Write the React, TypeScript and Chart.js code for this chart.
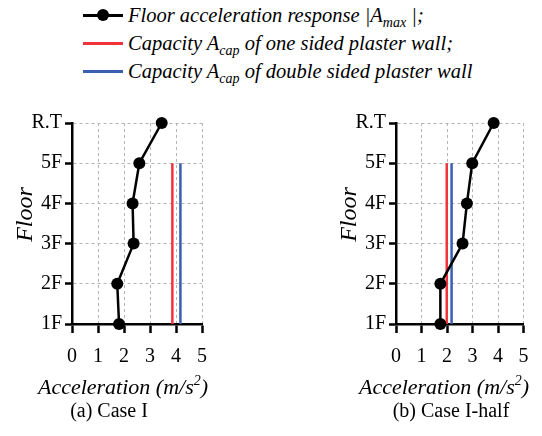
import React, { useEffect, useRef } from "react";
import { Chart, registerables } from "chart.js";

Chart.register(...registerables);

// ---- data ----
const floorLabels = ["1F", "2F", "3F", "4F", "5F", "R.T"];
const floorLevels = [1, 2, 3, 4, 5, 6];
const accelTicks = [0, 1, 2, 3, 4, 5];
const capacityFloors = [1, 5];

const caseIResponse = [1.81, 1.74, 2.37, 2.33, 2.59, 3.45];
const caseIOneSided = 3.86;
const caseIDoubleSided = 4.17;

const caseIHalfResponse = [1.74, 1.74, 2.61, 2.78, 2.99, 3.83];
const caseIHalfOneSided = 1.99;
const caseIHalfDoubleSided = 2.18;

// ---- style ----
const SERIF = '"Liberation Serif", "Times New Roman", serif';
const RED = "#f2333d";
const BLUE = "#3a5eb0";
const GRID = "#b4b4b4";

type PanelProps = {
  response: number[];
  oneSided: number;
  doubleSided: number;
  left: number;
  width: number;
  padRight: number;
};

function Panel({ response, oneSided, doubleSided, left, width, padRight }: PanelProps) {
  const ref = useRef<HTMLCanvasElement | null>(null);
  const H = 310;
  useEffect(() => {
    if (!ref.current) return;
    const chart = new Chart(ref.current, {
      type: "scatter",
      data: {
        datasets: [
          {
            label: "Floor acceleration response",
            data: floorLevels.map((f, i) => ({ x: response[i], y: f })),
            showLine: true,
            borderColor: "#000",
            backgroundColor: "#000",
            borderWidth: 2.5,
            pointRadius: 6,
            pointHoverRadius: 6,
            pointBorderWidth: 0,
            clip: false as any,
          },
          {
            label: "Capacity one sided",
            data: capacityFloors.map((f) => ({ x: oneSided, y: f })),
            showLine: true,
            borderColor: RED,
            backgroundColor: RED,
            borderWidth: 2.5,
            pointRadius: 0,
            clip: false as any,
          },
          {
            label: "Capacity double sided",
            data: capacityFloors.map((f) => ({ x: doubleSided, y: f })),
            showLine: true,
            borderColor: BLUE,
            backgroundColor: BLUE,
            borderWidth: 2.5,
            pointRadius: 0,
            clip: false as any,
          },
        ],
      },
      options: {
        responsive: false,
        animation: false,
        events: [],
        layout: { padding: { left: 0, top: 28, right: padRight, bottom: 0 } },
        plugins: { legend: { display: false }, tooltip: { enabled: false } },
        scales: {
          x: {
            type: "linear",
            min: 0,
            max: 5,
            afterBuildTicks: (s: any) => {
              s.ticks = accelTicks.map((v) => ({ value: v }));
            },
            afterFit: (s: any) => {
              s.height = H - 229;
            },
            ticks: {
              font: { family: SERIF, size: 20, weight: "normal" },
              color: "#000",
              padding: 12,
              maxRotation: 0,
              autoSkip: false,
            },
            grid: { color: GRID, lineWidth: 1, tickLength: 9, tickColor: "#000", tickWidth: 2.5 },
            border: { color: "#000", width: 2.5, dash: [3, 3] },
            title: { display: false },
          },
          y: {
            type: "linear",
            min: 1,
            max: 6,
            afterBuildTicks: (s: any) => {
              s.ticks = floorLevels.map((v) => ({ value: v }));
            },
            afterFit: (s: any) => {
              s.width = 72;
            },
            ticks: {
              font: { family: SERIF, size: 20, weight: "normal" },
              color: "#000",
              padding: 3,
              autoSkip: false,
              callback: (v: any) => floorLabels[floorLevels.indexOf(Number(v))] ?? "",
            },
            grid: { color: GRID, lineWidth: 1, tickLength: 7, tickColor: "#000", tickWidth: 2.5 },
            border: { color: "#000", width: 2.5, dash: [3, 3] },
            title: {
              display: true,
              text: "   Floor",
              font: { family: SERIF, size: 24, style: "italic", weight: "normal" },
              color: "#000",
              padding: { top: 11, bottom: 0 },
            },
          },
        },
      },
    });
    return () => chart.destroy();
  }, []);
  return (
    <canvas
      ref={ref}
      width={width}
      height={H}
      style={{ position: "absolute", left, top: 95, width, height: H }}
    />
  );
}

function LegendRow({ top, kind, children }: { top: number; kind: "black" | "red" | "blue"; children: any }) {
  const color = kind === "black" ? "#000" : kind === "red" ? RED : BLUE;
  return (
    <div
      style={{
        position: "absolute",
        left: 83,
        top,
        height: 28,
        display: "flex",
        alignItems: "center",
        whiteSpace: "nowrap",
      }}
    >
      <div style={{ position: "relative", width: 40, height: 28, flex: "none" }}>
        <div style={{ position: "absolute", left: 0, top: 13, width: 40, height: 2.5, background: color }} />
        {kind === "black" && (
          <div
            style={{
              position: "absolute",
              left: 14,
              top: 8,
              width: 12,
              height: 12,
              borderRadius: 6,
              background: "#000",
            }}
          />
        )}
      </div>
      <span
        style={{
          marginLeft: 5,
          fontFamily: SERIF,
          fontStyle: "italic",
          fontSize: 20.5,
          lineHeight: "28px",
          color: "#000",
        }}
      >
        {children}
      </span>
    </div>
  );
}

const subStyle: React.CSSProperties = { fontSize: 14, verticalAlign: -5, lineHeight: 0 };
const supStyle: React.CSSProperties = { fontSize: 14, verticalAlign: 9, lineHeight: 0 };

const captionStyle: React.CSSProperties = {
  position: "absolute",
  width: 200,
  top: 397,
  height: 26,
  lineHeight: "26px",
  textAlign: "center",
  fontFamily: SERIF,
  fontSize: 20,
  color: "#000",
  whiteSpace: "nowrap",
};

const axisTitleStyle: React.CSSProperties = {
  position: "absolute",
  width: 240,
  top: 375,
  height: 24,
  lineHeight: "24px",
  textAlign: "center",
  fontFamily: SERIF,
  fontStyle: "italic",
  fontSize: 22,
  color: "#000",
  whiteSpace: "nowrap",
};

export default function App() {
  return (
    <div
      style={{
        position: "fixed",
        left: 0,
        top: 0,
        width: 542,
        height: 436,
        background: "#fff",
        overflow: "hidden",
      }}
    >
      <LegendRow top={1} kind="black">
        Floor acceleration response |A<span style={subStyle}>max</span> |;
      </LegendRow>
      <LegendRow top={29} kind="red">
        Capacity A<span style={subStyle}>cap</span> of one sided plaster wall;
      </LegendRow>
      <LegendRow top={57} kind="blue">
        Capacity A<span style={subStyle}>cap</span> of double sided plaster wall
      </LegendRow>

      <Panel
        response={caseIResponse}
        oneSided={caseIOneSided}
        doubleSided={caseIDoubleSided}
        left={0}
        width={265}
        padRight={63}
      />
      <Panel
        response={caseIHalfResponse}
        oneSided={caseIHalfOneSided}
        doubleSided={caseIHalfDoubleSided}
        left={324}
        width={218}
        padRight={18.5}
      />

      <div style={{ ...axisTitleStyle, left: 123 - 120 }}>
        Acceleration (m/s<span style={supStyle}>2</span>)
      </div>
      <div style={{ ...axisTitleStyle, left: 444 - 120 }}>
        Acceleration (m/s<span style={supStyle}>2</span>)
      </div>

      <div style={{ ...captionStyle, left: 9 }}>(a) Case I</div>
      <div style={{ ...captionStyle, left: 351 }}>(b) Case I-half</div>
    </div>
  );
}
